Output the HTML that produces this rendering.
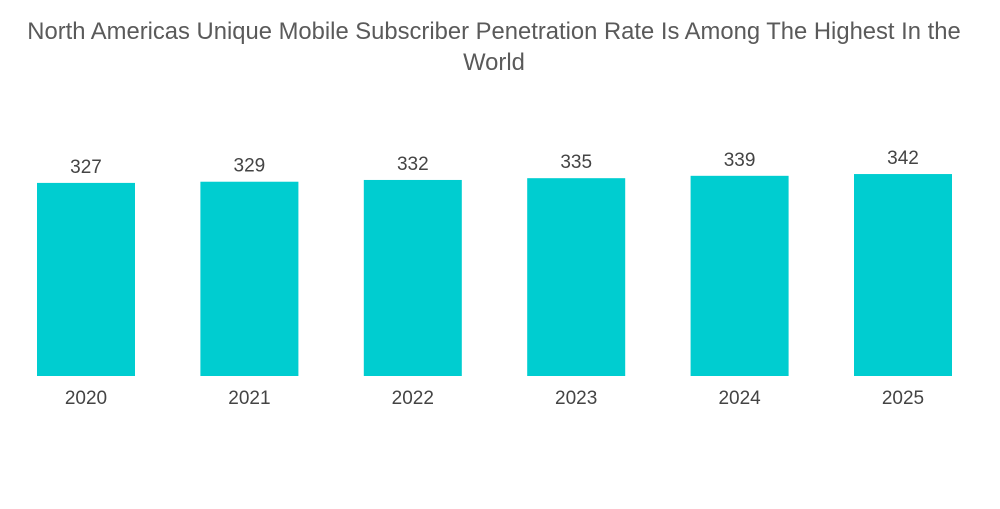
<!DOCTYPE html>
<html><head><meta charset="utf-8"><style>
body{margin:0;background:#fff;width:1000px;height:504px;overflow:hidden;font-family:"Liberation Sans",sans-serif}
</style></head><body>
<svg width="1000" height="504">
<text x="494" y="39" text-anchor="middle" font-size="23.8" fill="#5a5a5a">North Americas Unique Mobile Subscriber Penetration Rate Is Among The Highest In the</text>
<text x="494" y="70" text-anchor="middle" font-size="23.8" fill="#5a5a5a">World</text>
<g id="bars"></g>
</svg>
<script>
const categories=["2020","2021","2022","2023","2024","2025"];
const values=[327,329,332,335,339,342];
const baseY=376, scale=0.5905, x0=37, pitch=163.4, bw=98;
const y=v=>baseY-v*scale;
const xPos=i=>x0+i*pitch;
const g=document.getElementById('bars');
const NS="http://www.w3.org/2000/svg";
categories.forEach((c,i)=>{
  const r=document.createElementNS(NS,'rect');
  r.setAttribute('x',xPos(i));r.setAttribute('y',y(values[i]));
  r.setAttribute('width',bw);r.setAttribute('height',baseY-y(values[i]));
  r.setAttribute('fill','#00cdd0');
  
  
  g.appendChild(r);
  const t=document.createElementNS(NS,'text');
  t.setAttribute('x',xPos(i)+bw/2);t.setAttribute('y',y(values[i])-10);
  t.setAttribute('text-anchor','middle');t.setAttribute('font-size','19');t.setAttribute('fill','#444');
  t.textContent=values[i];
  
  
  g.appendChild(t);
  const l=document.createElementNS(NS,'text');
  l.setAttribute('x',xPos(i)+bw/2);l.setAttribute('y',404);
  l.setAttribute('text-anchor','middle');l.setAttribute('font-size','19');l.setAttribute('fill','#444');
  l.textContent=c;
  
  
  g.appendChild(l);
});
</script>
</body></html>
